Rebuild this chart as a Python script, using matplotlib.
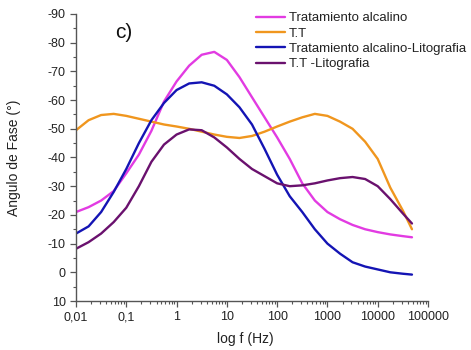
import matplotlib
matplotlib.use("Agg")
import matplotlib.pyplot as plt
from matplotlib.ticker import FixedLocator, LogLocator, NullFormatter, MultipleLocator

plt.rcParams['font.family'] = ['Liberation Sans', 'DejaVu Sans']

freq = [0.01, 0.0178, 0.0316, 0.0562, 0.1, 0.178, 0.316, 0.562, 1, 1.78, 3.16, 5.62,
        10, 17.8, 31.6, 56.2, 100, 178, 316, 562, 1000, 1778, 3162, 5623,
        10000, 17783, 31623, 48000]

alcalino = [-21, -22.7, -25, -28.3, -34.5, -41, -49.3, -59.5, -66.5, -72, -75.8, -76.8,
            -74, -68, -61, -54, -47, -39.5, -31, -25, -21, -18.5, -16.5, -15,
            -14, -13.2, -12.6, -12.2]
tt = [-49.5, -53, -54.8, -55.2, -54.5, -53.5, -52.5, -51.5, -50.8, -50, -49, -48,
      -47.2, -46.8, -47.5, -49, -50.8, -52.5, -54, -55.2, -54.5, -52.5, -50, -45.5,
      -39.5, -29.5, -21.5, -15]
alc_lito = [-13.5, -16, -21, -28, -36, -45, -53, -59, -63.5, -65.8, -66.2, -65,
            -62, -57.5, -51.5, -43, -34, -26.5, -21, -15, -10, -6.5, -3.5, -2,
            -1, 0, 0.5, 0.8]
tt_lito = [-8.2, -10.5, -13.5, -17.5, -22.5, -30, -38.5, -44.5, -48, -49.8, -49.5, -47,
           -43.5, -39.5, -36, -33.5, -31, -30, -30.3, -31, -32, -32.8, -33.2, -32.5,
           -30, -25.5, -20.5, -17]

series = [
    ("Tratamiento alcalino", alcalino, "#e23be2"),
    ("T.T", tt, "#f0961e"),
    ("Tratamiento alcalino-Litografia", alc_lito, "#1414b4"),
    ("T.T -Litografia", tt_lito, "#6a116e"),
]

xticks = [0.01, 0.1, 1, 10, 100, 1000, 10000, 100000]
xticklabels = ["0,01", "0,1", "1", "10", "100", "1000", "10000", "100000"]
yticks = [-90, -80, -70, -60, -50, -40, -30, -20, -10, 0, 10]
yticklabels = ["-90", "-80", "-70", "-60", "-50", "-40", "-30", "-20", "-10", "0", "10"]

fig = plt.figure(figsize=(4.71, 3.5), dpi=100)
ax = fig.add_axes([76/471, 49/350, 352/471, 287/350])

for label, vals, color in series:
    ax.plot(freq, vals, color=color, lw=1.7, label=label,
            solid_capstyle='round', solid_joinstyle='round')

ax.set_xscale('log')
ax.set_xlim(0.01, 100000)
ax.set_ylim(10, -90)
ax.xaxis.set_major_locator(FixedLocator(xticks))
ax.set_xticklabels(xticklabels)
ax.xaxis.set_minor_locator(LogLocator(base=10, subs=range(2, 10), numticks=20))
ax.xaxis.set_minor_formatter(NullFormatter())
ax.set_yticks(yticks)
ax.set_yticklabels(yticklabels)
ax.yaxis.set_minor_locator(MultipleLocator(5))

for s in ['top', 'right']:
    ax.spines[s].set_visible(False)
for s in ['left', 'bottom']:
    ax.spines[s].set_color('#555555')
    ax.spines[s].set_linewidth(1.0)

ax.tick_params(axis='both', which='major', length=4, width=0.9, color='#555555',
               labelsize=9, labelcolor='#222222', direction='out')
ax.tick_params(axis='both', which='minor', length=2.5, width=0.8, color='#555555',
               direction='out')

fig.text(14/471, 1 - 158/350, "Angulo de Fase (°)", rotation=90, ha='center', va='center',
         fontsize=10, color='#222222')
fig.text(245/471, 1 - 339/350, "log f (Hz)", ha='center', va='center',
         fontsize=10, color='#222222')
fig.text(124/471, 1 - 33/350, "c)", ha='center', va='center', fontsize=15, color='#111111')

leg = fig.legend(loc='upper left', bbox_to_anchor=(256/471, 1 - 12/350), frameon=False,
                 fontsize=9.5, handlelength=2.2, handletextpad=0.3, labelspacing=0.24,
                 borderaxespad=0, borderpad=0)
for t in leg.get_texts():
    t.set_color('#222222')

fig.savefig("out.png", dpi=100)
